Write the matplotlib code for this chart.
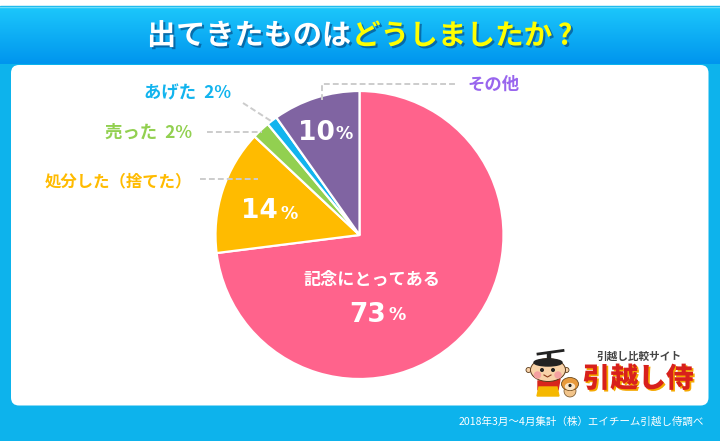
import numpy as np
import matplotlib
matplotlib.use('Agg')
import matplotlib.pyplot as plt
import matplotlib.patheffects as pe
from matplotlib.patches import Circle, Ellipse, FancyBboxPatch, Polygon, Rectangle

plt.rcParams['font.family'] = ['Noto Sans CJK JP', 'DejaVu Sans']

# values, labels as printed
categories = ['記念にとってある', '処分した（捨てた）', '売った', 'あげた', 'その他']
slice_values = [73.0, 14.0, 2.0, 1.2, 9.8]
pct_labels = ['73', '14', '2%', '2%', '10']
slice_colors = ['#FF638C', '#FFBB00', '#92D050', '#12B4EE', '#8064A2']

fig = plt.figure(figsize=(7.2, 4.41), dpi=100)
ax = fig.add_axes([0, 0, 1, 1])

# pie first, then pixel coordinates (y axis flipped, so start at -90)
ax.pie(slice_values, colors=slice_colors, center=(359.5, 235), radius=144,
       startangle=-90, counterclock=True, frame=True,
       wedgeprops={'edgecolor': 'white', 'linewidth': 1.6, 'zorder': 4})
ax.set_xlim(0, 720)
ax.set_ylim(441, 0)
ax.set_aspect('auto')
ax.axis('off')

# backgrounds
ax.add_patch(Rectangle((0, 6), 720, 435, color='#0DB3EC', zorder=0))
grad = np.linspace(0, 1, 64).reshape(-1, 1)
cmap = matplotlib.colors.LinearSegmentedColormap.from_list('hdr', ['#1CC7FB', '#0095EE'])
ax.imshow(grad, extent=(0, 720, 64, 7), cmap=cmap, aspect='auto', zorder=1)
ax.plot([0, 720], [6.5, 6.5], color='#6FDCF8', lw=1, zorder=2)
ax.set_xlim(0, 720)
ax.set_ylim(441, 0)
ax.add_patch(FancyBboxPatch((11, 65), 697.5, 340.5, boxstyle='round,pad=0,rounding_size=8',
                            fc='white', ec='none', zorder=2))

# title, two colours
shadow = [pe.withSimplePatchShadow(offset=(1.5, -1.5), shadow_rgbFace='#06508A', alpha=0.7)]
ax.text(147, 35.5, '出てきたものは', color='white', fontsize=21, fontweight='bold',
        va='center', ha='left', path_effects=shadow, zorder=6)
ax.text(352, 35.5, 'どうしましたか', color='#FFFF00', fontsize=20.6, fontweight='bold',
        va='center', ha='left', path_effects=shadow, zorder=6)
ax.text(565, 35.5, '?', color='#FFFF00', fontsize=20.6, fontweight='bold',
        va='center', ha='center', path_effects=shadow, zorder=6)

# dashed leaders
dash = dict(color='#CCCCCC', lw=1.4, ls=(0, (3, 1.6)), zorder=5)
ax.plot([322, 322, 456], [100, 84, 84], **dash)
ax.plot([243, 271], [103, 121], **dash)
ax.plot([207, 262], [132, 132], **dash)
ax.plot([200, 258], [179, 179], **dash)

# outside labels
ax.text(187, 93, categories[3] + '  ' + pct_labels[3], color=slice_colors[3], fontsize=12.5,
        fontweight='bold', ha='center', va='center', zorder=6)
ax.text(148.5, 133, categories[2] + '  ' + pct_labels[2], color=slice_colors[2], fontsize=12.5,
        fontweight='bold', ha='center', va='center', zorder=6)
ax.text(118, 181.5, categories[1], color=slice_colors[1], fontsize=11.8,
        fontweight='bold', ha='center', va='center', zorder=6)
ax.text(493.5, 84.5, categories[4], color='#9966EE', fontsize=12.5,
        fontweight='bold', ha='center', va='center', zorder=6)

# inside labels
ax.text(372, 279.5, categories[0], color='white', fontsize=12.3, fontweight='bold',
        ha='center', va='center', zorder=6)
for num, x, y in [(pct_labels[0], 367.5, 314.5), (pct_labels[1], 259.5, 211), (pct_labels[4], 316, 133)]:
    ax.text(x, y, num, color='white', fontsize=19, fontweight='bold', ha='center',
            va='center', family='DejaVu Sans', zorder=6)
for x, y in [(397, 315), (289, 214), (344, 134)]:
    ax.text(x, y, '%', color='white', fontsize=12.5, fontweight='bold', ha='center',
            va='center', family='DejaVu Sans', zorder=6)

# logo, samurai
ax.add_patch(Polygon([(538, 381), (560, 379), (558, 390), (538, 390)], color='#D8261C', zorder=5))
ax.add_patch(Polygon([(539, 387), (557, 387), (559, 396), (537, 396)], color='#F5B800', zorder=5))
ax.add_patch(Circle((528.5, 370), 2.5, fc='#F8D2A8', ec='#5A3A1A', lw=0.6, zorder=5))
ax.add_patch(Circle((566.5, 370), 2.5, fc='#F8D2A8', ec='#5A3A1A', lw=0.6, zorder=5))
ax.add_patch(Ellipse((548, 370), 35, 23, fc='#F8D2A8', ec='#5A3A1A', lw=0.7, zorder=6))
ax.add_patch(Ellipse((548, 362.5), 28, 7, color='#222222', zorder=7))
ax.add_patch(Rectangle((546.5, 352), 3, 9, color='#222222', zorder=7))
ax.plot([538, 563], [354, 350.5], color='#222222', lw=2, zorder=7)
ax.add_patch(Circle((542, 370), 1.3, color='#222222', zorder=7))
ax.add_patch(Circle((553, 370), 1.3, color='#222222', zorder=7))
ax.add_patch(Circle((537.5, 375), 3, color='#F4A0A0', zorder=7))
ax.add_patch(Circle((558, 375), 3, color='#F4A0A0', zorder=7))
ax.plot([544, 547.5, 551], [375, 377, 375], color='#8A3A1A', lw=0.8, zorder=7)
# logo, dog
ax.add_patch(Circle((570, 391), 6, fc='#F2C48A', ec='#6B4A20', lw=0.5, zorder=6))
ax.add_patch(Ellipse((570, 384), 17, 13, fc='#E89A3C', ec='#6B4A20', lw=0.6, zorder=6))
ax.add_patch(Ellipse((570, 386.5), 9, 6, color='#FBE6C8', zorder=7))
ax.add_patch(Circle((570, 385.5), 0.9, color='#222222', zorder=8))

ax.text(639, 356.5, '引越し比較サイト', color='#444444', fontsize=7.7, fontweight='bold',
        ha='center', va='center', zorder=6)
ax.text(638, 379, '引越し侍', color='#D8201C', fontsize=20, fontweight='heavy', ha='center', va='center',
        path_effects=[pe.withSimplePatchShadow(offset=(1.2, -1.2), shadow_rgbFace='#F5A800', alpha=1)], zorder=6)

# source note
ax.text(581.5, 421.5, '2018年3月～4月集計（株）エイチーム引越し侍調べ', color='white', fontsize=7.6,
        ha='center', va='center', zorder=6)

fig.savefig('out.png', dpi=100)
